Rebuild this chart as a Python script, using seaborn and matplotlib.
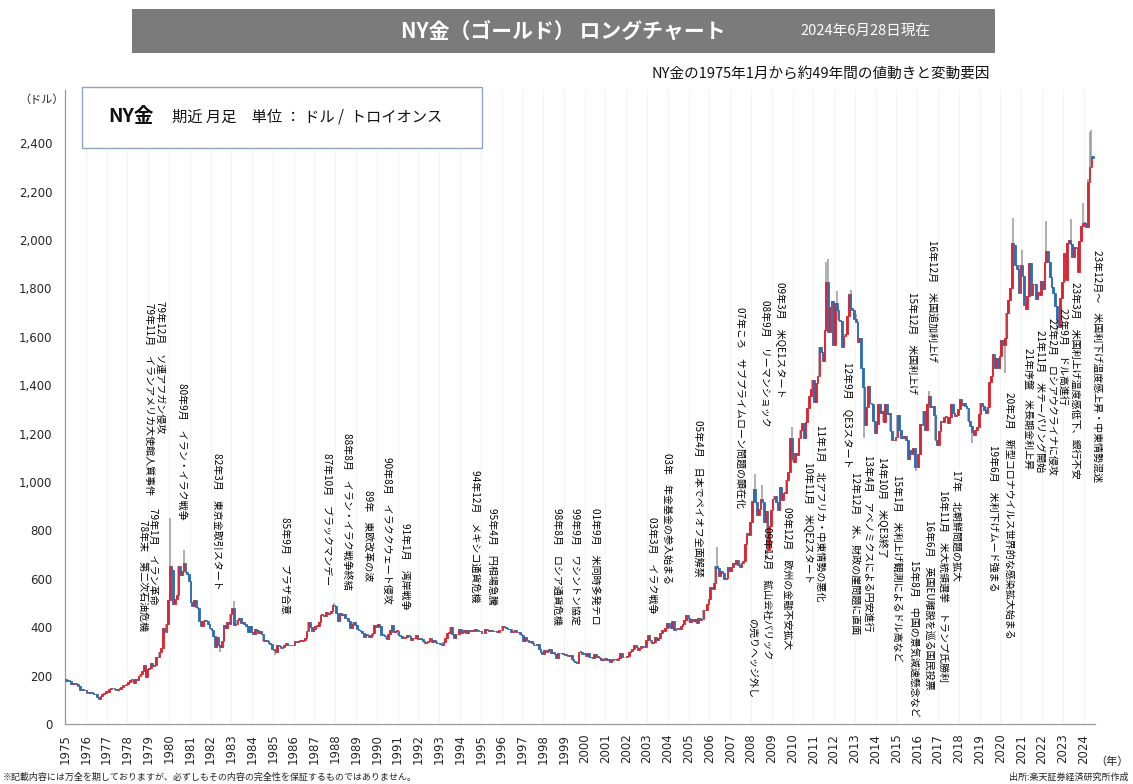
import numpy as np
import pandas as pd
import seaborn as sns
import matplotlib
matplotlib.use("Agg")
import matplotlib.pyplot as plt
from matplotlib.patches import Rectangle
from matplotlib.ticker import FuncFormatter

# ---------------- data (monthly closes, USD/oz) ----------------
first_open = 186
close_1975_1979 = [
    176, 181, 177, 167, 167, 166, 166, 159, 142, 143, 139, 140,
    129, 133, 129, 128, 126, 123, 113, 104, 116, 123, 130, 135,
    132, 143, 149, 147, 143, 141, 145, 146, 154, 162, 160, 165,
    175, 182, 181, 170, 184, 183, 200, 208, 218, 242, 194, 226,
    233, 251, 240, 245, 275, 277, 296, 315, 397, 382, 415, 512]
close_1980s = [
    653, 637, 494, 518, 535, 653, 614, 631, 666, 629, 619, 590,
    506, 489, 513, 482, 479, 426, 406, 425, 428, 427, 414, 397,
    387, 362, 320, 361, 326, 317, 342, 411, 397, 423, 414, 456,
    481, 408, 414, 429, 437, 416, 422, 414, 405, 382, 405, 382,
    370, 394, 388, 375, 384, 373, 342, 348, 341, 333, 329, 308,
    306, 298, 325, 321, 316, 317, 327, 333, 326, 325, 325, 327,
    345, 338, 344, 345, 343, 346, 357, 384, 423, 401, 383, 391,
    405, 405, 421, 451, 451, 447, 462, 453, 460, 469, 492, 486,
    458, 426, 457, 449, 455, 436, 437, 427, 397, 413, 422, 410,
    394, 387, 383, 377, 361, 373, 368, 359, 366, 375, 408, 401]
close_1990s = [
    415, 407, 368, 367, 363, 352, 372, 387, 408, 380, 384, 386,
    366, 362, 355, 357, 360, 368, 362, 347, 354, 357, 366, 353,
    354, 353, 341, 336, 337, 343, 357, 340, 349, 339, 334, 333,
    330, 327, 337, 355, 377, 378, 401, 371, 355, 370, 370, 391,
    378, 381, 389, 376, 387, 386, 384, 385, 394, 389, 383, 383,
    375, 376, 392, 389, 385, 387, 383, 383, 384, 382, 387, 387,
    405, 400, 396, 392, 391, 382, 385, 387, 379, 379, 371, 369,
    345, 358, 348, 340, 345, 334, 326, 325, 332, 311, 296, 290,
    304, 297, 301, 310, 293, 296, 288, 273, 293, 292, 294, 288,
    287, 287, 279, 286, 268, 261, 255, 254, 299, 299, 291, 290]
close_2000s = [
    283, 293, 278, 275, 272, 288, 276, 277, 273, 264, 269, 274,
    265, 267, 257, 263, 267, 270, 266, 273, 293, 278, 275, 277,
    282, 296, 301, 308, 326, 318, 305, 313, 323, 317, 319, 347,
    368, 347, 334, 339, 361, 346, 354, 375, 388, 386, 398, 416,
    400, 396, 427, 388, 393, 395, 391, 407, 415, 428, 452, 438,
    422, 435, 427, 435, 417, 437, 429, 433, 473, 470, 495, 517,
    568, 556, 582, 654, 643, 613, 632, 623, 599, 604, 648, 632,
    650, 665, 663, 679, 659, 650, 666, 673, 743, 789, 783, 834,
    923, 971, 916, 865, 887, 930, 918, 833, 880, 718, 819, 884,
    928, 942, 916, 883, 980, 927, 955, 955, 1008, 1040, 1182, 1096]
close_2010s = [
    1081, 1118, 1113, 1180, 1213, 1244, 1181, 1248, 1307, 1357, 1386, 1421,
    1332, 1409, 1439, 1556, 1536, 1500, 1628, 1826, 1620, 1725, 1746, 1566,
    1740, 1711, 1669, 1664, 1560, 1604, 1610, 1687, 1776, 1719, 1711, 1675,
    1663, 1578, 1595, 1472, 1393, 1234, 1312, 1396, 1328, 1323, 1253, 1202,
    1240, 1321, 1284, 1295, 1246, 1322, 1282, 1287, 1210, 1172, 1175, 1184,
    1279, 1213, 1183, 1182, 1190, 1172, 1095, 1132, 1114, 1142, 1064, 1061,
    1116, 1238, 1234, 1293, 1215, 1322, 1357, 1311, 1316, 1275, 1173, 1152,
    1212, 1253, 1249, 1268, 1268, 1242, 1269, 1322, 1284, 1271, 1275, 1303,
    1345, 1318, 1327, 1316, 1305, 1253, 1233, 1207, 1196, 1215, 1226, 1283,
    1325, 1316, 1298, 1285, 1311, 1413, 1437, 1529, 1473, 1514, 1473, 1520]
close_2020s = [
    1588, 1566, 1597, 1700, 1751, 1800, 1986, 1978, 1895, 1880, 1781, 1895,
    1850, 1733, 1715, 1768, 1905, 1771, 1817, 1818, 1757, 1784, 1774, 1829,
    1796, 1908, 1954, 1911, 1848, 1807, 1782, 1726, 1672, 1640, 1759, 1826,
    1945, 1836, 1986, 1999, 1982, 1929, 1970, 1966, 1866, 1996, 2057, 2072,
    2071, 2054, 2238, 2302, 2346, 2339]

# notable monthly highs / lows (wicks) : (year, month, value)
wick_highs = [(1980, 1, 850), (1980, 9, 720), (1983, 2, 510), (1987, 12, 500),
              (2006, 5, 730), (2008, 3, 1033), (2008, 7, 988), (2009, 12, 1227),
              (2011, 8, 1911), (2011, 9, 1923), (2012, 2, 1790), (2012, 10, 1795),
              (2013, 1, 1694), (2016, 7, 1375), (2020, 8, 2089), (2021, 1, 1959),
              (2022, 3, 2078), (2023, 5, 2085), (2023, 12, 2152), (2024, 3, 2254),
              (2024, 4, 2448), (2024, 5, 2454)]
wick_lows = [(1976, 8, 103), (1982, 6, 297), (1985, 2, 285), (1999, 7, 253),
             (2001, 4, 255), (2008, 10, 681), (2013, 6, 1180), (2015, 12, 1046),
             (2018, 8, 1160), (2020, 3, 1451), (2022, 9, 1615)]

year_ticks = list(range(1975, 2025))
y_ticks = list(range(0, 2401, 200))

events = [
    "78年末　第二次石油危機", "79年1月　イラン革命",
    "79年11月　イランアメリカ大使館人質事件", "79年12月　ソ連アフガン侵攻",
    "80年9月　イラン・イラク戦争", "82年3月　東京金取引スタート",
    "85年9月　プラザ合意", "87年10月　ブラックマンデー",
    "88年8月　イラン・イラク戦争終結", "89年　東欧改革の波",
    "90年8月　イラククウェート侵攻", "91年1月　湾岸戦争",
    "94年12月　メキシコ通貨危機", "95年4月　円相場急騰",
    "98年8月　ロシア通貨危機", "99年9月　ワシントン協定",
    "01年9月　米同時多発テロ", "03年3月　イラク戦争",
    "03年　年金基金の参入始まる", "05年4月　日本でペイオフ全面解禁",
    "07年ころ　サブプライムローン問題の顕在化", "08年9月　リーマンショック",
    "09年3月　米QE1スタート", "09年12月　欧州の金融不安拡大",
    "09年12月　鉱山会社バリック", "の売りヘッジ外し",
    "11年1月　北アフリカ・中東情勢の悪化", "10年11月　米QE2スタート",
    "12年9月　QE3スタート", "13年4月　アベノミクスによる円安進行",
    "12年12月　米、財政の崖問題に直面", "14年10月　米QE3終了",
    "15年1月　米利上げ観測によるドル高など", "15年8月　中国の景気減速懸念など",
    "16年6月　英国EU離脱を巡る国民投票", "16年11月　米大統領選挙　トランプ氏勝利",
    "17年　北朝鮮問題の拡大", "15年12月　米国利上げ",
    "16年12月　米国追加利上げ", "19年6月　米利下げムード強まる",
    "20年2月　新型コロナウイルス世界的な感染拡大始まる", "21年序盤　米長期金利上昇",
    "21年11月　米テーパリング開始", "22年2月　ロシアウクライナに侵攻",
    "22年9月　ドル高進行", "23年3月　米国利上げ温度感低下、銀行不安",
    "23年12月～　米国利下げ温度感上昇・中東情勢混迷"]

# ---------------- layout (annotation anchor: x in years, top in USD) ----------------
event_pos = [
    (1978.75, 843), (1979.23, 892), (1979.04, 1739), (1979.57, 1747),
    (1980.63, 1408), (1982.31, 1119), (1985.59, 855), (1987.61, 1119),
    (1988.57, 1202), (1989.58, 967), (1990.50, 1103), (1991.36, 830),
    (1994.73, 1049), (1995.55, 892), (1998.68, 892), (1999.54, 892),
    (2000.51, 892), (2003.25, 855), (2003.97, 1119), (2005.46, 1256),
    (2007.48, 1722), (2008.69, 1751), (2009.41, 1826), (2009.75, 896),
    (2008.78, 814), (2008.06, 438), (2011.33, 1235), (2010.76, 1082),
    (2012.63, 1495), (2013.64, 1111), (2013.02, 1041), (2014.32, 1103),
    (2015.04, 1029), (2015.86, 677), (2016.58, 843), (2017.25, 967),
    (2017.88, 1049), (2015.76, 1784), (2016.72, 1999), (2019.66, 1152),
    (2020.43, 1371), (2021.34, 1553), (2021.92, 1627), (2022.50, 1677),
    (2023.03, 1718), (2023.60, 1826), (2024.66, 1958)]

# ---------------- build frame ----------------
closes = close_1975_1979 + close_1980s + close_1990s + close_2000s + close_2010s + close_2020s
n = len(closes)
dates = pd.date_range("1975-01-01", periods=n, freq="MS")
df = pd.DataFrame({"date": dates, "close": closes})
df["open"] = [first_open] + closes[:-1]
df["xpos"] = df["date"].dt.year + (df["date"].dt.month - 0.5) / 12.0
df["up"] = df["close"] >= df["open"]
df["high"] = df[["open", "close"]].max(axis=1)
df["low"] = df[["open", "close"]].min(axis=1)
key = list(zip(df["date"].dt.year, df["date"].dt.month))
for (yy, mm, v) in wick_highs:
    i = key.index((yy, mm))
    df.loc[i, "high"] = max(df.loc[i, "high"], v)
for (yy, mm, v) in wick_lows:
    i = key.index((yy, mm))
    df.loc[i, "low"] = min(df.loc[i, "low"], v)

# ---------------- draw ----------------
sns.set_theme(style="white")
plt.rcParams["font.family"] = ["Noto Sans CJK JP", "DejaVu Sans"]

W, H = 1133, 784
fig = plt.figure(figsize=(W / 100, H / 100), dpi=100)
fig.patch.set_facecolor("white")
ax = fig.add_axes([65 / W, 1 - 724 / H, (1095 - 65) / W, (724 - 90) / H])

RED = "#dc2430"
BLUE = "#2f6db3"
WICK = "#9a9a9a"

ax.vlines(df["xpos"], df["low"], df["high"], color=WICK, lw=1.1, zorder=2)
body = (df["close"] - df["open"]).abs().clip(lower=3)
bottoms = df[["open", "close"]].min(axis=1)
colors = np.where(df["up"], RED, BLUE)
ax.bar(df["xpos"], body, bottom=bottoms, width=0.08, color=colors,
       edgecolor=colors, linewidth=0.6, zorder=3)

ax.set_xlim(1975.0, 2024.55)
ax.set_ylim(0, 2620)
ax.set_xticks(year_ticks)
ax.set_xticklabels([str(y) for y in year_ticks], rotation=90, fontsize=8.5,
                   family="DejaVu Sans")
ax.set_yticks(y_ticks)
ax.yaxis.set_major_formatter(FuncFormatter(lambda v, p: f"{int(v):,}"))
ax.tick_params(axis="y", labelsize=8.5, length=3, color="#888888", pad=6)
ax.tick_params(axis="x", length=3, color="#888888", pad=4)
for lab in ax.get_yticklabels():
    lab.set_family("DejaVu Sans")
ax.grid(axis="x", color="#f1f1f1", lw=0.6)
for s in ["top", "right"]:
    ax.spines[s].set_visible(False)
for s in ["left", "bottom"]:
    ax.spines[s].set_color("#9a9a9a")
    ax.spines[s].set_linewidth(0.9)

for txt, (xx, yy) in zip(events, event_pos):
    ax.text(xx, yy, txt, rotation=270, ha="center", va="top", fontsize=7.2,
            color="#000000", clip_on=False, zorder=5)

# title bar
fig.patches.append(Rectangle((132 / W, 1 - 53 / H), (995 - 132) / W, 44 / H,
                             transform=fig.transFigure, facecolor="#7b7b7b",
                             edgecolor="none", zorder=0))
fig.text(563 / W, 1 - 31 / H, "NY金（ゴールド） ロングチャート", ha="center", va="center",
         fontsize=15, fontweight="bold", color="white")
fig.text(865 / W, 1 - 31 / H, "2024年6月28日現在", ha="center", va="center",
         fontsize=10.5, color="white")
fig.text(990 / W, 1 - 75 / H, "NY金の1975年1月から約49年間の値動きと変動要因",
         ha="right", va="center", fontsize=10.5, color="#111111")
fig.text(42 / W, 1 - 100 / H, "（ドル）", ha="center", va="center", fontsize=8,
         color="#222222")

# info box
fig.patches.append(Rectangle((82 / W, 1 - 148 / H), 400 / W, 61 / H,
                             transform=fig.transFigure, facecolor="white",
                             edgecolor="#8fa3bf", lw=1.0, zorder=1))
fig.text(108 / W, 1 - 117 / H, "NY金", ha="left", va="center", fontsize=14,
         fontweight="bold", color="#111111", zorder=2)
fig.text(172 / W, 1 - 117 / H, "期近 月足　単位 ： ドル /  トロイオンス", ha="left",
         va="center", fontsize=11, color="#111111", zorder=2)

fig.text(1112 / W, 1 - 762 / H, "（年）", ha="center", va="center", fontsize=8,
         color="#222222")
fig.text(3 / W, 1 - 777 / H,
         "※記載内容には万全を期しておりますが、必ずしもその内容の完全性を保証するものではありません。",
         ha="left", va="center", fontsize=6.5, color="#222222")
fig.text(1128 / W, 1 - 777 / H, "出所:楽天証券経済研究所作成", ha="right", va="center",
         fontsize=6.5, color="#222222")

fig.savefig("out.png", dpi=100, facecolor="white")
